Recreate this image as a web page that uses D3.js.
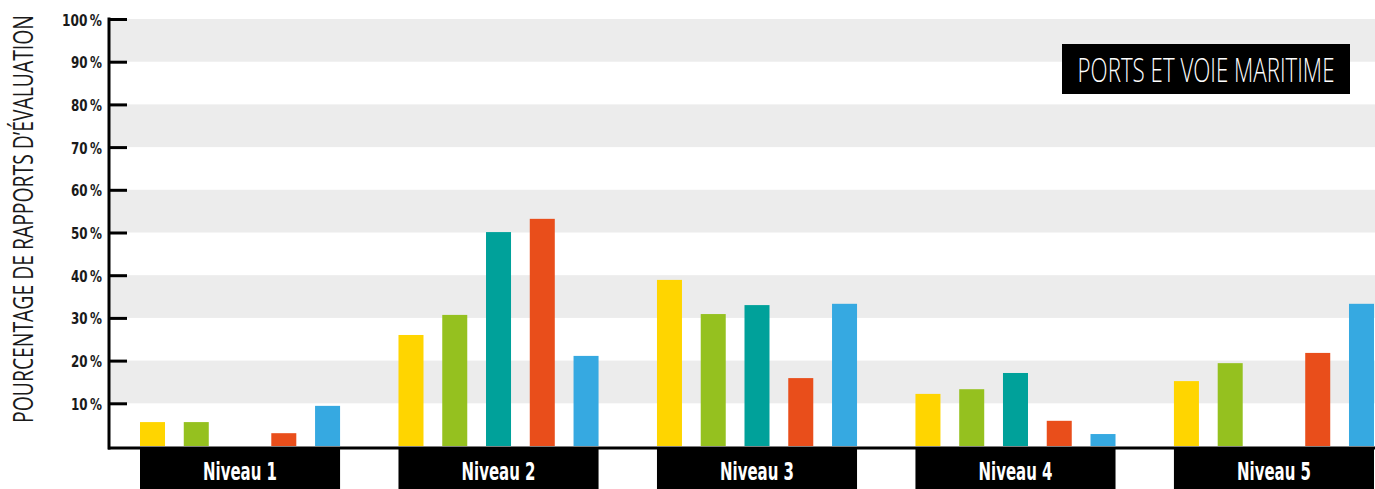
<!DOCTYPE html>
<html>
<head>
<meta charset="utf-8">
<script src="https://cdn.jsdelivr.net/npm/d3@7"></script>
<style>
  body { margin: 0; background: #fff; }
  svg { display: block; }
</style>
</head>
<body>
<svg id="chart" width="1375" height="489"></svg>
<script>
// data
const niveaux = ["Niveau 1", "Niveau 2", "Niveau 3", "Niveau 4", "Niveau 5"];
const series = ["jaune", "vert", "turquoise", "orange", "bleu"];
const couleurs = ["#ffd500", "#95c11f", "#00a19a", "#e94e1b", "#36a9e1"];
const valJaune = [5.6, 26.0, 38.9, 12.2, 15.2];
const valVert = [5.6, 30.7, 30.9, 13.3, 19.4];
const valTurquoise = [0, 50.1, 33.0, 17.1, 0];
const valOrange = [3.0, 53.2, 15.9, 5.9, 21.8];
const valBleu = [9.4, 21.1, 33.3, 2.8, 33.3];
const yTicks = [10, 20, 30, 40, 50, 60, 70, 80, 90, 100];
const bandes = [[10, 20], [30, 40], [50, 60], [70, 80], [90, 100]];
const titreY = "POURCENTAGE DE RAPPORTS D\u2019\u00c9VALUATION";
const titreSecteur = "PORTS ET VOIE MARITIME";

const valeurs = [valJaune, valVert, valTurquoise, valOrange, valBleu];

let data = [];
niveaux.forEach(function (niv, i) {
  series.forEach(function (s, j) {
    data.push({ niveau: niv, serie: s, value: valeurs[j][i] });
  });
});

const boldFont = "'DejaVu Sans Condensed', 'DejaVu Sans', sans-serif";
const lightFont = "'Open Sans', 'DejaVu Sans Condensed', sans-serif";

// squeeze a text horizontally so it matches the condensed face of the original
function squeeze(sel, w, ax, ay) {
  sel.each(function (d) {
    let node = d3.select(this);
    let natural = this.getComputedTextLength();
    let target = typeof w === "function" ? w(d) : w;
    let k = target / natural;
    node.attr("transform", `translate(${ax},${ay}) scale(${k},1)`)
      .attr("x", 0).attr("y", 0);
  });
}

const svg = d3.select("#chart");

let y = d3.scaleLinear().domain([0, 100]).range([446, 19]);

let x0 = d3.scaleBand()
  .domain(niveaux)
  .range([140, 1374])
  .paddingInner(0.226)
  .paddingOuter(0);

let x1 = d3.scaleBand()
  .domain(series)
  .range([0, x0.bandwidth()])
  .paddingInner(0.4286)
  .paddingOuter(0);

let color = d3.scaleOrdinal().domain(series).range(couleurs);

// grey bands
svg.append("g")
  .selectAll("rect")
  .data(bandes)
  .join("rect")
  .attr("x", 109)
  .attr("width", 1375 - 109)
  .attr("y", d => y(d[1]))
  .attr("height", d => y(d[0]) - y(d[1]))
  .attr("fill", "#ececec");

// sector box
let leg = svg.append("g");
leg.append("rect")
  .attr("x", 1062)
  .attr("y", 44)
  .attr("width", 288)
  .attr("height", 50)
  .attr("fill", "#000");
leg.append("text")
  .attr("text-anchor", "middle")
  .attr("fill", "#fff")
  .attr("font-family", lightFont)
  .attr("font-weight", 300)
  .attr("font-size", 33)
  .text(titreSecteur)
  .call(squeeze, 257, 1206, 82);

// x axis line
svg.append("line")
  .attr("x1", 108)
  .attr("x2", 1375)
  .attr("y1", 448)
  .attr("y2", 448)
  .attr("stroke", "#000")
  .attr("stroke-width", 3);

// bars
svg.append("g")
  .selectAll("rect")
  .data(data.filter(d => d.value > 0))
  .join("rect")
  .attr("x", d => x0(d.niveau) + x1(d.serie))
  .attr("width", x1.bandwidth())
  .attr("y", d => y(d.value))
  .attr("height", d => y(0) - y(d.value))
  .attr("fill", d => color(d.serie));

// y axis
let yAxis = svg.append("g")
  .attr("transform", "translate(109,0)")
  .call(d3.axisLeft(y)
    .tickValues(yTicks)
    .tickSizeInner(-18)
    .tickSizeOuter(0)
    .tickPadding(7)
    .tickFormat(d => d + "\u2009%"));

yAxis.select(".domain")
  .attr("stroke-width", 3)
  .attr("d", `M0,${y(100) - 1.5}V${y(0) + 3.5}`);
yAxis.selectAll(".tick line").attr("stroke-width", 3);
yAxis.selectAll(".tick text")
  .attr("font-family", boldFont)
  .attr("font-weight", "bold")
  .attr("font-size", 16.5)
  .attr("fill", "#1a1a1a")
  .attr("dy", null)
  .call(squeeze, d => (d === 100 ? 40 : 31), -7, 6);

// niveau label boxes
let lab = svg.append("g")
  .selectAll("g")
  .data(niveaux)
  .join("g")
  .attr("transform", d => `translate(${x0(d)},447)`);

lab.append("rect")
  .attr("width", x0.bandwidth())
  .attr("height", 45)
  .attr("fill", "#000");

lab.append("text")
  .attr("text-anchor", "middle")
  .attr("fill", "#fff")
  .attr("font-family", boldFont)
  .attr("font-weight", "bold")
  .attr("font-size", 25)
  .text(d => d)
  .call(squeeze, 74, x0.bandwidth() / 2, 33);

// y title
svg.append("text")
  .attr("text-anchor", "middle")
  .attr("fill", "#1a1a1a")
  .attr("font-family", lightFont)
  .attr("font-weight", 400)
  .attr("font-size", 28)
  .text(titreY)
  .each(function () {
    let k = 408 / this.getComputedTextLength();
    d3.select(this).attr("transform", `translate(33,219) rotate(-90) scale(${k},1)`);
  });
</script>
</body>
</html>
